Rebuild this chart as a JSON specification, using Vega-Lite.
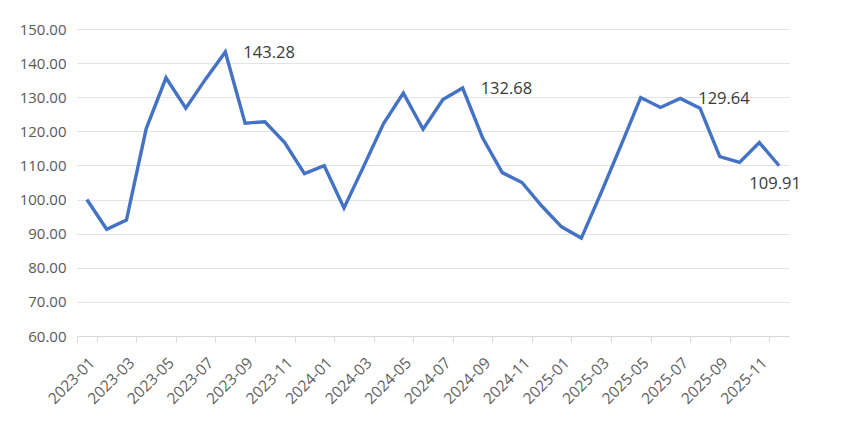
{
  "$schema": "https://vega.github.io/schema/vega-lite/v6.json",
  "width": 712,
  "height": 307,
  "autosize": {"type": "none"},
  "padding": {"left": 77, "top": 29, "right": 76, "bottom": 94},
  "background": "white",
  "config": {"view": {"stroke": null}, "font": "Open Sans"},
  "data": {"values": [
    {"month": "2023-01", "value": 100.0},
    {"month": "2023-02", "value": 91.3},
    {"month": "2023-03", "value": 94.0},
    {"month": "2023-04", "value": 120.8},
    {"month": "2023-05", "value": 135.7},
    {"month": "2023-06", "value": 126.8},
    {"month": "2023-07", "value": 135.3},
    {"month": "2023-08", "value": 143.28},
    {"month": "2023-09", "value": 122.4},
    {"month": "2023-10", "value": 122.8},
    {"month": "2023-11", "value": 116.7},
    {"month": "2023-12", "value": 107.6},
    {"month": "2024-01", "value": 109.9},
    {"month": "2024-02", "value": 97.5},
    {"month": "2024-03", "value": 109.8},
    {"month": "2024-04", "value": 122.3},
    {"month": "2024-05", "value": 131.2},
    {"month": "2024-06", "value": 120.6},
    {"month": "2024-07", "value": 129.3},
    {"month": "2024-08", "value": 132.68},
    {"month": "2024-09", "value": 118.2},
    {"month": "2024-10", "value": 107.9},
    {"month": "2024-11", "value": 105.0},
    {"month": "2024-12", "value": 98.1},
    {"month": "2025-01", "value": 92.0},
    {"month": "2025-02", "value": 88.7},
    {"month": "2025-03", "value": 102.0},
    {"month": "2025-04", "value": 115.8},
    {"month": "2025-05", "value": 129.9},
    {"month": "2025-06", "value": 127.0},
    {"month": "2025-07", "value": 129.64},
    {"month": "2025-08", "value": 126.8},
    {"month": "2025-09", "value": 112.6},
    {"month": "2025-10", "value": 110.9},
    {"month": "2025-11", "value": 116.7},
    {"month": "2025-12", "value": 109.91}
  ]},
  "encoding": {
    "x": {
      "field": "month", "type": "ordinal", "sort": null, "bandPosition": 0.5,
      "scale": {"type": "band", "paddingInner": 0, "paddingOuter": 0},
      "axis": {
        "title": null,
        "values": ["2023-01","2023-03","2023-05","2023-07","2023-09","2023-11","2024-01","2024-03","2024-05","2024-07","2024-09","2024-11","2025-01","2025-03","2025-05","2025-07","2025-09","2025-11"],
        "labelAngle": -45,
        "labelFontSize": 15.5,
        "labelColor": "#5f5f5f",
        "labelPadding": 13,
        "tickBand": "extent",
        "tickColor": "#d9d9d9",
        "tickSize": 6,
        "domainColor": "#d9d9d9",
        "domainWidth": 1,
        "grid": false
      }
    },
    "y": {
      "field": "value", "type": "quantitative",
      "scale": {"domain": [60, 150], "nice": false, "zero": false},
      "axis": {
        "title": null,
        "values": [60, 70, 80, 90, 100, 110, 120, 130, 140, 150],
        "format": ".2f",
        "labelFontSize": 15,
        "labelColor": "#595959",
        "labelPadding": 11,
        "ticks": false,
        "domain": false,
        "grid": true,
        "gridColor": "#e3e3e3",
        "gridWidth": 1
      }
    }
  },
  "layer": [
    {"mark": {"type": "line", "color": "#4472C4", "strokeWidth": 3.4, "strokeJoin": "miter"}},
    {
      "transform": [{"filter": {"field": "month", "oneOf": ["2023-08", "2024-08", "2025-07"]}}],
      "mark": {"type": "text", "align": "left", "baseline": "middle", "dx": 18, "dy": 1, "fontSize": 16.5, "color": "#3a3a3a"},
      "encoding": {"text": {"field": "value", "type": "quantitative", "format": ".2f"}}
    },
    {
      "transform": [{"filter": {"field": "month", "oneOf": ["2025-12"]}}],
      "mark": {"type": "text", "align": "center", "baseline": "middle", "dx": -4, "dy": 18, "fontSize": 16.5, "color": "#3a3a3a"},
      "encoding": {"text": {"field": "value", "type": "quantitative", "format": ".2f"}}
    }
  ]
}
